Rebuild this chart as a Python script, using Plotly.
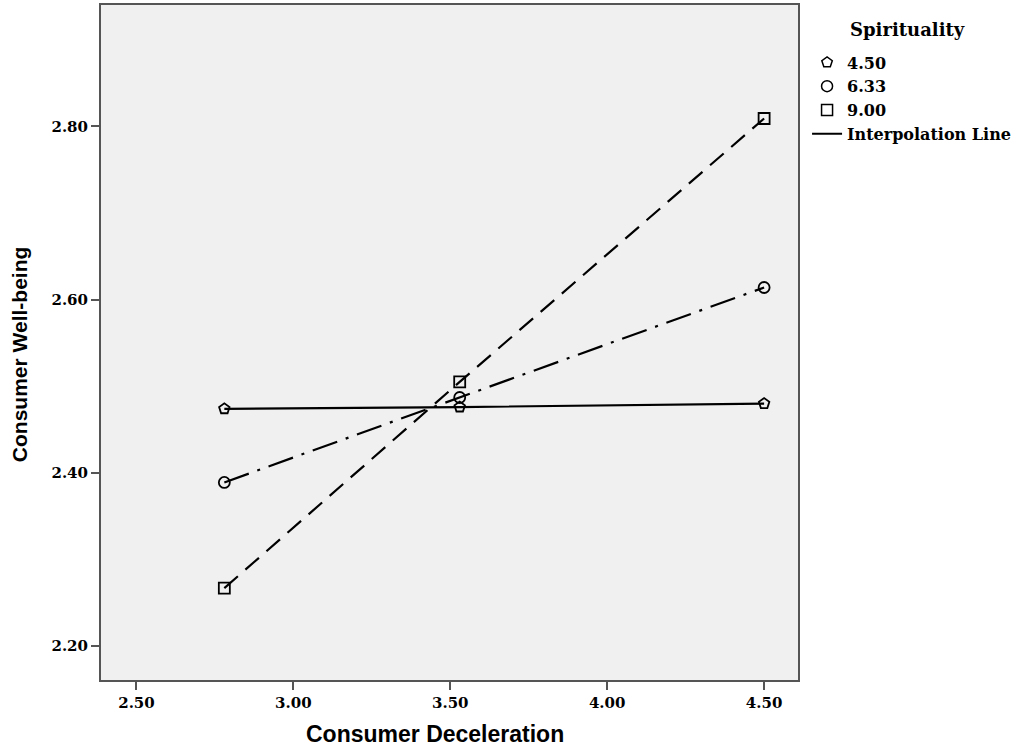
import plotly.graph_objects as go

# Data
deceleration = [2.78, 3.53, 4.50]
spirituality_levels = ["4.50", "6.33", "9.00"]
wellbeing_450 = [2.474, 2.476, 2.480]
wellbeing_633 = [2.389, 2.487, 2.614]
wellbeing_900 = [2.267, 2.505, 2.809]

series = [wellbeing_450, wellbeing_633, wellbeing_900]
symbols = ["pentagon-open", "circle-open", "square-open"]
dashes = ["solid", "26px,9px,3px,9px", "18px,10px"]
sizes = [11, 11, 11]

serif = "DejaVu Serif, serif"
sans = "Liberation Sans, Arial, sans-serif"

fig = go.Figure()

for vals, sym, dash, sz in zip(series, symbols, dashes, sizes):
    fig.add_trace(go.Scatter(
        x=deceleration, y=vals, mode="lines+markers",
        line=dict(color="black", width=2.2, dash=dash),
        marker=dict(symbol=sym, size=sz, color="black",
                    line=dict(color="black", width=1.8)),
        showlegend=False, hoverinfo="x+y"))

# Legend entries (markers only), as in the reference
for name, sym, sz in zip(spirituality_levels, symbols, sizes):
    fig.add_trace(go.Scatter(
        x=[None], y=[None], mode="markers", name=name,
        marker=dict(symbol=sym, size=sz, color="black",
                    line=dict(color="black", width=1.5))))
fig.add_trace(go.Scatter(
    x=[None], y=[None], mode="lines", name="Interpolation Line",
    line=dict(color="black", width=2)))

axis_common = dict(
    showline=True, mirror=True, linecolor="#555555", linewidth=2,
    ticks="outside", ticklen=8, tickcolor="#555555", tickwidth=1.5,
    showgrid=False, zeroline=False, automargin=False,
    tickfont=dict(family=serif, size=15, color="black", weight="bold"),
)

fig.update_xaxes(
    range=[2.387, 4.608], tickvals=[2.5, 3.0, 3.5, 4.0, 4.5],
    ticktext=["2.50", "3.00", "3.50", "4.00", "4.50"],
    **axis_common)
fig.update_yaxes(
    range=[2.161, 2.94], tickvals=[2.2, 2.4, 2.6, 2.8],
    ticktext=["2.20", "2.40", "2.60", "2.80"],
    **axis_common)

fig.add_annotation(
    text="<b>Consumer Deceleration</b>", xref="paper", yref="paper",
    x=0.479, y=-0.08, xanchor="center", yanchor="middle", showarrow=False,
    font=dict(family=sans, size=23, color="black"))
fig.add_annotation(
    text="<b>Consumer Well-being</b>", xref="paper", yref="paper",
    x=-0.116, y=0.4815, xanchor="center", yanchor="middle", showarrow=False,
    textangle=-90, font=dict(family=sans, size=21, color="black"))
fig.add_annotation(
    text="<b>Spirituality</b>", xref="paper", yref="paper",
    x=1.072, y=0.963, xanchor="left", yanchor="middle", showarrow=False,
    font=dict(family=serif, size=18, color="black"))

fig.update_layout(
    width=1028, height=752,
    margin=dict(l=101, r=230, t=5, b=72),
    plot_bgcolor="#f0f0f0", paper_bgcolor="white",
    legend=dict(
        x=1.013, xanchor="left", y=0.94, yanchor="top",
        font=dict(family=serif, size=16, color="black", weight="bold"),
        bgcolor="rgba(0,0,0,0)", itemwidth=30, tracegroupgap=0,
    ),
)

fig.write_html("out.html", config={"displayModeBar": False},
               post_script="document.body.style.margin='0';")
